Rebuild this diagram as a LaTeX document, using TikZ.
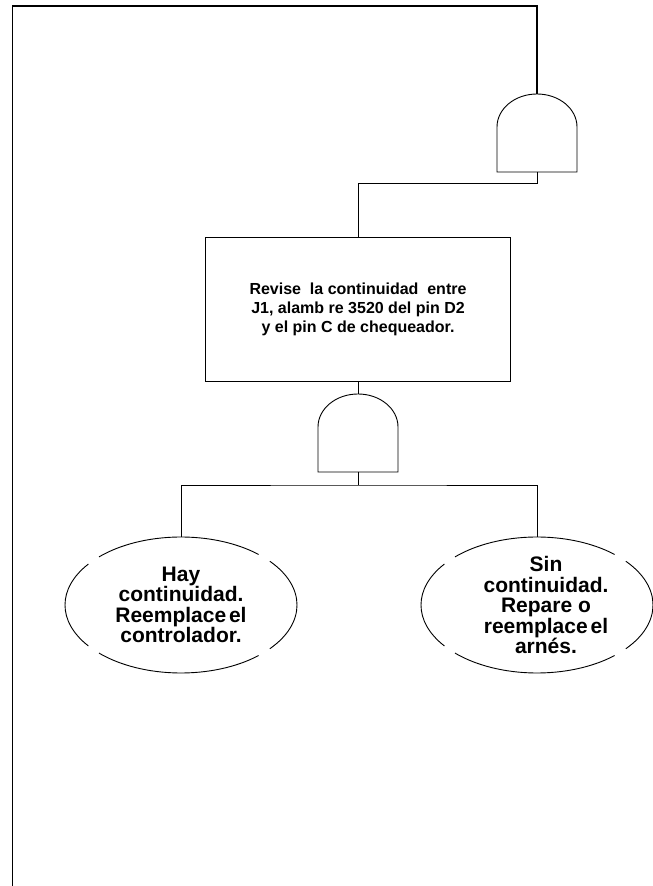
\documentclass[tikz,border=0pt]{standalone}
\usepackage{fontspec}
\setmainfont{Liberation Sans}
\usetikzlibrary{positioning,calc,shapes.geometric}

\tikzset{
  andgate/.pic={
    \draw[line width=0.9pt] (-40,0) -- (-40,45)
      arc[start angle=180,end angle=0,x radius=40pt,y radius=33pt] -- (40,0) -- cycle;
    \coordinate (-in) at (0,78);
    \coordinate (-out) at (0,0);
  }
}

\begin{document}
\begin{tikzpicture}[x=1pt,y=1pt,
  frame/.style={line width=1.8pt},
  wire/.style={line width=0.9pt},
  checkbox/.style={draw,line width=0.9pt,minimum width=305pt,minimum height=144pt,
    inner sep=0pt,align=center,font=\fontsize{16}{19}\selectfont\bfseries},
  leaf/.style={ellipse,minimum width=232pt,minimum height=136pt,inner sep=0pt},
  leaftext/.style={align=center,font=\fontsize{21}{20.5}\selectfont\bfseries}]
\useasboundingbox (0,0) rectangle (653,886);

\pic (topgate) at (537,714) {andgate};
\pic (midgate) at (358,414) {andgate};
\node[checkbox] (check) at (358,577)
  {Revise\ \ la continuidad\ \ entre\\J1, alamb re 3520 del pin D2\\y el pin C de chequeador.};
\node[leaf] (yes) at (181,281) {};
\node[leaf] (no) at (537,281) {};
\node[leaftext] (yestext) at (yes.center)
  {Hay\\continuidad.\\Reemplace\kern-3pt\ el\\controlador.};
\node[leaftext] (notext) at ([xshift=9pt]no.center)
  {Sin\\continuidad.\\Repare o\\reemplace\kern-3pt\ el\\arnés.};

% outer frame and connectors
\coordinate (floor) at (12.5,0);
\coordinate (corner) at (12.5,880);
\draw[frame] (floor) -- (corner) -| (topgate-in);
\draw[wire] (topgate-out) -- ++(0,-11) -| (check.north);
\draw[wire] (check.south) -- (midgate-in);
\draw[wire] (midgate-out) -- ++(0,-13) coordinate (split);
\draw[wire] (yes.north) |- (split) -| (no.north);

% broken ellipse outlines
\foreach \n in {yes,no}
  \foreach \a/\b in {48/135,143/217,225/312,320/400}
    \draw[wire] ([shift={(\a:116pt and 68pt)}]\n.center)
      arc[start angle=\a,end angle=\b,x radius=116pt,y radius=68pt];
\end{tikzpicture}
\end{document}
